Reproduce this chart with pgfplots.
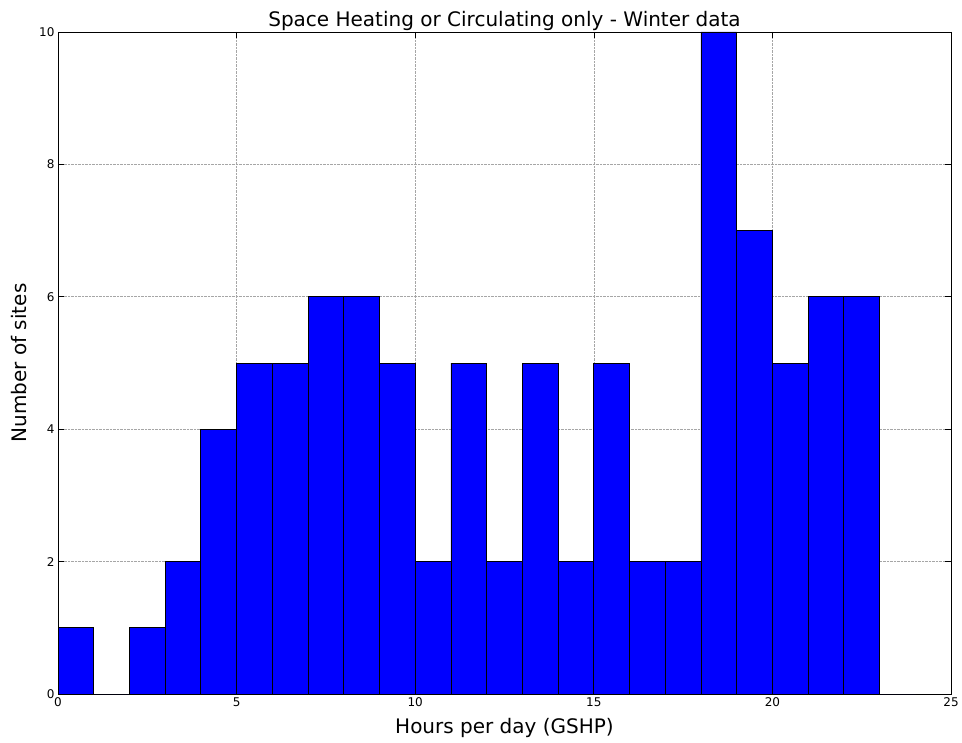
\documentclass[border=0pt]{standalone}
\usepackage{pgfplots}
\pgfplotsset{compat=1.18}
\usepackage{fontspec}
\setmainfont{DejaVu Sans}
\definecolor{mplblue}{RGB}{0,0,255}

\begin{document}
\begin{tikzpicture}
\begin{axis}[
    scale only axis,
    width=893pt, height=662pt,
    xmin=0, xmax=25, ymin=0, ymax=10,
    xtick={0,5,...,25}, ytick={0,2,...,10},
    tick align=inside,
    major tick length=6pt,
    grid=major,
    grid style={densely dotted, gray!70, line width=0.6pt},
    axis line style={line width=0.8pt},
    tick style={black, line width=0.6pt},
    tick label style={font=\fontsize{12}{14}\selectfont},
    /pgf/number format/assume math mode=true,
    title={Space Heating or Circulating only - Winter data},
    title style={font=\fontsize{20}{24}\selectfont, yshift=-8pt},
    xlabel={Hours per day (GSHP)},
    ylabel={Number of sites},
    label style={font=\fontsize{20}{24}\selectfont},
    xlabel style={yshift=-5pt},
    ylabel style={yshift=6pt},
]
\addplot[ybar interval, fill=mplblue, draw=black, line width=0.8pt]
coordinates {
(0,1) (1,0) (2,1) (3,2) (4,4) (5,5) (6,5) (7,6) (8,6) (9,5)
(10,2) (11,5) (12,2) (13,5) (14,2) (15,5) (16,2) (17,2) (18,10) (19,7)
(20,5) (21,6) (22,6) (23,0) (24,0)
};
\end{axis}
\pgfresetboundingbox
\path ([xshift=-58pt,yshift=-48pt]current axis.south west)
  rectangle ([xshift=11pt,yshift=32pt]current axis.north east);
\end{tikzpicture}
\end{document}
